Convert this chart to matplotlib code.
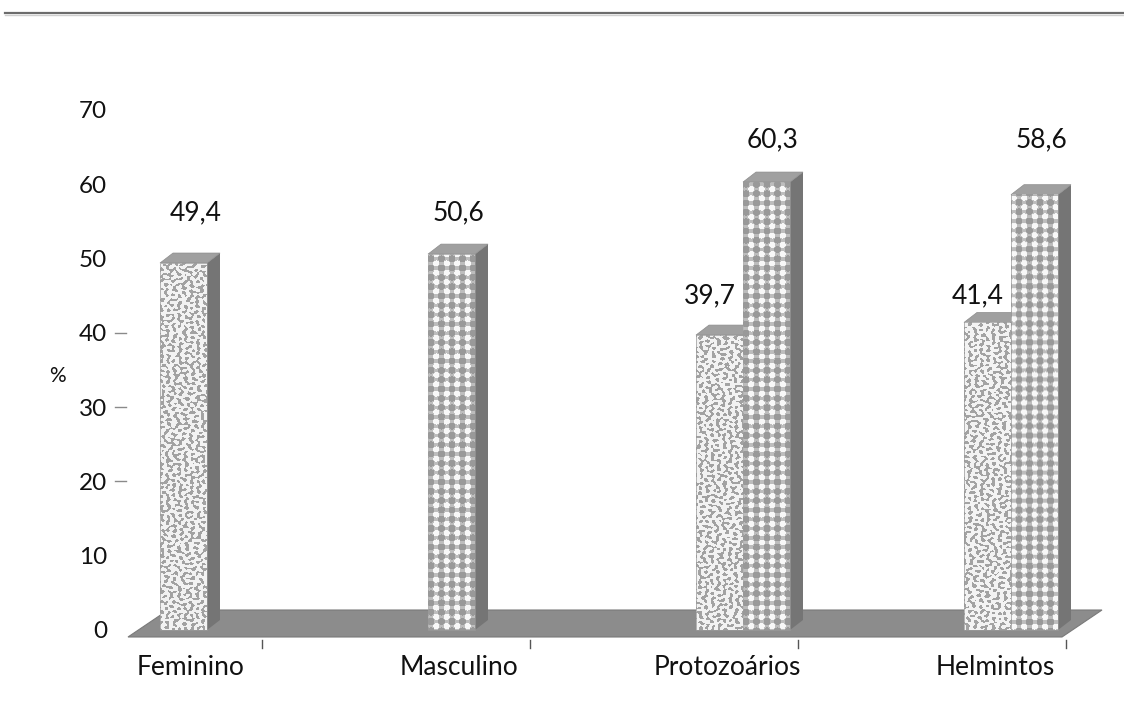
import numpy as np
import matplotlib
matplotlib.use("Agg")
import matplotlib.pyplot as plt
from matplotlib.patches import Polygon, Rectangle
from matplotlib.lines import Line2D

# ---- data -----------------------------------------------------------------
categories = ["Feminino", "Masculino", "Protozoários", "Helmintos"]
fine_values = [49.4, None, 39.7, 41.4]      # stippled bars
coarse_values = [None, 50.6, 60.3, 58.6]    # dotted bars
y_ticks = [0, 10, 20, 30, 40, 50, 60, 70]
y_label = "%"

# vertical gap (pixels) between each bar top and its value label
fine_label_gap = [50, None, 39, 27]
coarse_label_gap = [None, 41, 42, 55]


def fmt(v):
    return f"{v:.1f}".replace(".", ",")


# ---- figure / axes ----------------------------------------------------------
W, H, DPI = 1124, 704, 100
PT = 72.0 / DPI
plt.rcParams["font.family"] = ["Lato", "DejaVu Sans"]
fig = plt.figure(figsize=(W / DPI, H / DPI), dpi=DPI)
fig.patch.set_facecolor("white")

ax_left_px, ax_right_px = 128, 1105
base_px, top_px = 630, 110
ax = fig.add_axes([ax_left_px / W, (H - base_px) / H,
                   (ax_right_px - ax_left_px) / W, (base_px - top_px) / H])
PX_X = 268.0                      # pixels per category step
x0_px = 207                       # pixel of first category pair centre
ax.set_xlim((ax_left_px - x0_px) / PX_X, (ax_right_px - x0_px) / PX_X)
ax.set_ylim(0, 70)
PX_Y = (base_px - top_px) / 70.0
for s in ax.spines.values():
    s.set_visible(False)
ax.set_facecolor("none")

bar_w = 47 / PX_X
dx, dy = 13 / PX_X, 10 / PX_Y
TXT = "#111111"


def to_px(x, y):
    return x0_px + x * PX_X, base_px - y * PX_Y


# ---- textures -------------------------------------------------------------
def stipple(xp, yp):
    f = np.zeros_like(xp, dtype=float)
    for k in range(18):
        th = k * 2.39996
        fr = 1.05 + 0.35 * np.sin(k * 1.3)
        f += np.cos(fr * (np.cos(th) * xp + np.sin(th) * yp) + k * 1.7)
    return np.where(f > 0.9, 0.64, 0.95)


def dots(xp, yp):
    px, py = 10.5, 9.3
    u = (xp % px) - px / 2
    v = ((yp + 2) % py) - py / 2
    d_white = np.hypot(u, v)                         # distance to white spot centre
    u2 = ((xp + px / 2) % px) - px / 2
    v2 = ((yp + 2 + py / 2) % py) - py / 2
    d_grey = np.hypot(u2, v2)                        # distance to grey blob centre
    img = np.full(xp.shape, 0.74)
    img = np.where(d_grey < 3.4, 0.60, img)
    img = np.where(d_white < 3.0, 0.97, img)
    return img


def textured_rect(x, y0, w, h, func, z):
    lx, ty = to_px(x, y0 + h)
    wp, hp = int(round(w * PX_X)), int(round(h * PX_Y))
    xp, yp = np.meshgrid(np.arange(wp) + lx, np.arange(hp) + ty)
    ax.imshow(func(xp, yp), cmap="gray", vmin=0, vmax=1,
              extent=[x, x + w, y0, y0 + h], aspect="auto",
              interpolation="bilinear", zorder=z, clip_on=False)


# ---- floor ----------------------------------------------------------------
floor_front_y = -7 / PX_Y
floor_l, floor_r = (128 - x0_px) / PX_X, (1062 - x0_px) / PX_X
fdx, fdy = 40 / PX_X, 27 / PX_Y
floor = Polygon([[floor_l, floor_front_y], [floor_r, floor_front_y],
                 [floor_r + fdx, floor_front_y + fdy], [floor_l + fdx, floor_front_y + fdy]],
                closed=True, facecolor="#8c8c8c", edgecolor="#7a7a7a", lw=0.8,
                zorder=1, clip_on=False)
ax.add_patch(floor)
for i in range(len(categories)):
    xt = i + 55 / PX_X
    ax.plot([xt, xt], [floor_front_y - 3 / PX_Y, floor_front_y - 11 / PX_Y],
            color="#555555", lw=1.0, zorder=1, clip_on=False)

# ---- bars -----------------------------------------------------------------
z = 3
for i, cat in enumerate(categories):
    bars = [(v, f, g) for v, f, g in ((fine_values[i], stipple, fine_label_gap[i]),
                                      (coarse_values[i], dots, coarse_label_gap[i]))
            if v is not None]
    n = len(bars)
    for k, (v, func, gap) in enumerate(bars):
        xl = i - bar_w + k * bar_w
        side = Polygon([[xl + bar_w, 0], [xl + bar_w + dx, dy],
                        [xl + bar_w + dx, v + dy], [xl + bar_w, v]],
                       closed=True, facecolor="#757575", edgecolor="none",
                       zorder=z, clip_on=False)
        ax.add_patch(side)
        top = Polygon([[xl, v], [xl + bar_w, v], [xl + bar_w + dx, v + dy], [xl + dx, v + dy]],
                      closed=True, facecolor="#a0a0a0", edgecolor="#8c8c8c", lw=0.5,
                      zorder=z, clip_on=False)
        ax.add_patch(top)
        textured_rect(xl, 0, bar_w, v, func, z + 0.5)
        ax.add_patch(Rectangle((xl, 0), bar_w, v, facecolor="none",
                               edgecolor="#9a9a9a", lw=0.5, zorder=z + 0.6, clip_on=False))
        if n > 1 and k == 0:
            shift = -16
        elif n == 1 and func is stipple:
            shift = 6
        else:
            shift = 0
        ax.annotate(fmt(v), (xl + bar_w / 2 + dx / 2, v),
                    xytext=(shift * PT, gap * PT), textcoords="offset points",
                    ha="center", va="center", fontsize=19, color=TXT,
                    zorder=10, annotation_clip=False)
        z += 1

# ---- axes text --------------------------------------------------------------
ax.set_yticks(y_ticks)
ax.set_yticklabels([str(t) for t in y_ticks])
ax.tick_params(axis="y", length=0, pad=15, labelsize=17.5, labelcolor=TXT)
for t in (20, 30, 40):
    ax.plot([(115 - x0_px) / PX_X, (126 - x0_px) / PX_X], [t, t],
            color="#8a8a8a", lw=1.0, clip_on=False)

ax.set_xticks([i - 16 / PX_X for i in range(len(categories))])
ax.set_xticklabels(categories)
ax.tick_params(axis="x", length=0, pad=18, labelsize=19, labelcolor=TXT)

ax.text((57 - x0_px) / PX_X, (base_px - 376) / PX_Y, y_label, ha="center", va="center",
        fontsize=15, color=TXT, clip_on=False)

# rule across the top
fig.add_artist(Line2D([5 / W, 1], [1 - 13 / H, 1 - 13 / H], color="#6c6c6c", lw=1.6))
fig.add_artist(Line2D([5 / W, 1], [1 - 15 / H, 1 - 15 / H], color="#cfcfcf", lw=1.0))

fig.savefig("out.png", dpi=DPI, facecolor="white")
